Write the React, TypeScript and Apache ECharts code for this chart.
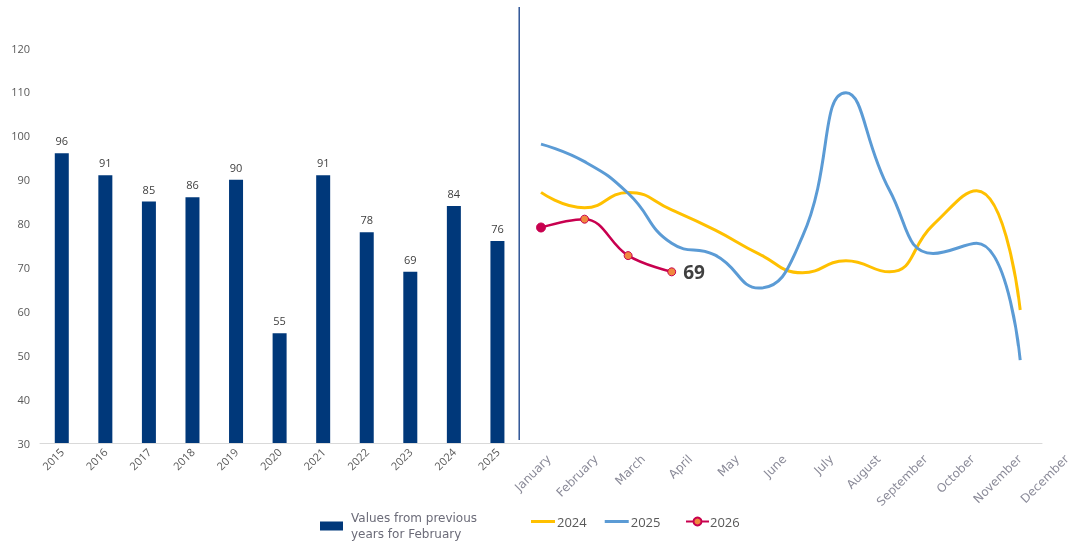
import React, { useEffect, useRef } from "react";
import * as echarts from "echarts";

const years = ["2015", "2016", "2017", "2018", "2019", "2020", "2021", "2022", "2023", "2024", "2025"];
const barValues = [96, 91, 85, 86, 90, 55, 91, 78, 69, 84, 76];
const months = ["January", "February", "March", "April", "May", "June", "July", "August", "September", "October", "November", "December"];
const values2024 = [87.1, 83.6, 87.1, 83.1, 78.5, 73.1, 68.8, 71.5, 69.0, 79.7, 87.5, 60.3];
const values2025 = [98.1, 94.1, 86.9, 75.5, 72.8, 65.3, 77.0, 109.8, 87.6, 73.2, 75.5, 48.9];
const values2026 = [79.1, 81.0, 72.7, 69];
const yMin = 30;
const yMax = 120;
const yInterval = 10;

const barName = "Values from previous\nyears for February";

export default function App() {
  const ref = useRef<HTMLDivElement>(null);
  useEffect(() => {
    const chart = echarts.init(ref.current!, null, { renderer: "svg" });
    const categories = [...years, ...months];
    const nY = years.length;
    const barData = categories.map((_, i) => (i < nY ? barValues[i] : null));
    const lineData = (vals: number[]) => categories.map((_, i) => (i >= nY && i - nY < vals.length ? vals[i - nY] : null));
    const red = "#C8004F";
    const data2026: any[] = lineData(values2026).map((v, i) => {
      if (v === null) return null;
      const k = i - nY;
      if (k === 0) return { value: v, itemStyle: { color: red, borderColor: red }, symbolSize: 9 };
      if (k === values2026.length - 1)
        return {
          value: v,
          label: {
            show: true,
            position: "right",
            distance: 7,
            formatter: "{c}",
            fontSize: 19,
            fontWeight: "bold",
            color: "#404040",
            fontFamily: "Open Sans",
          },
        };
      return v;
    });

    const option: any = {
      animation: false,
      grid: [
        { left: 40, right: 31, top: 48, bottom: 101 },
        { left: 549, right: 3, top: 48, bottom: 101 },
      ],
      legend: [
        {
          data: [{ name: barName, icon: "rect" }],
          left: 315,
          top: 505,
          itemWidth: 23,
          itemHeight: 9,
          itemGap: 10,
          textStyle: { fontSize: 12, color: "#6b6b78", fontFamily: "DejaVu Sans", lineHeight: 16, padding: [0, 0, 0, 3] },
        },
        {
          data: [
            { name: "2024", icon: "rect" },
            { name: "2025", icon: "rect" },
          ],
          left: 526,
          top: 510,
          itemWidth: 24,
          itemHeight: 3,
          itemGap: 18,
          textStyle: { fontSize: 13, color: "#595959", fontFamily: "Open Sans", padding: [0, 0, 0, -3] },
        },
        {
          data: ["2026"],
          left: 680,
          top: 510,
          itemWidth: 23,
          itemHeight: 10,
          textStyle: { fontSize: 13, color: "#595959", fontFamily: "Open Sans", padding: [0, 0, 0, -4] },
        },
      ],
      xAxis: [
        {
          type: "category",
          gridIndex: 0,
          data: categories,
          axisLine: { show: true, lineStyle: { color: "#d9d9d9", width: 1 } },
          axisTick: { show: false },
          axisLabel: {
            interval: 0,
            rotate: 45,
            margin: 7,
            fontSize: 11,
            color: "#595959",
            fontFamily: "Open Sans",
            formatter: (v: string) => (years.includes(v) ? v : ""),
          },
          splitLine: { show: false },
        },
        {
          type: "category",
          gridIndex: 1,
          data: months,
          boundaryGap: false,
          axisLine: { show: false },
          axisTick: { show: false },
          axisLabel: {
            interval: 0,
            rotate: 45,
            margin: 14,
            fontSize: 12,
            color: "#8a8a98",
            fontFamily: "DejaVu Sans",
          },
          splitLine: { show: false },
        },
      ],
      yAxis: [
        {
          type: "value",
          gridIndex: 0,
          min: yMin,
          max: yMax,
          interval: yInterval,
          axisLine: { show: false },
          axisTick: { show: false },
          splitLine: { show: false },
          axisLabel: { fontSize: 11, color: "#595959", fontFamily: "Open Sans", margin: 10 },
        },
        { type: "value", gridIndex: 1, min: yMin, max: yMax, show: false },
      ],
      series: [
        {
          name: barName,
          type: "bar",
          xAxisIndex: 0,
          yAxisIndex: 0,
          data: barData,
          barWidth: 14,
          itemStyle: { color: "#00387A" },
          label: {
            show: true,
            position: "top",
            distance: 7,
            fontSize: 11,
            color: "#404040",
            fontFamily: "Open Sans",
          },
        },
        {
          name: "2024",
          type: "line",
          xAxisIndex: 0,
          yAxisIndex: 0,
          data: lineData(values2024),
          smooth: 0.5,
          symbol: "none",
          color: "#FFC000",
          lineStyle: { color: "#FFC000", width: 3 },
        },
        {
          name: "2025",
          type: "line",
          xAxisIndex: 0,
          yAxisIndex: 0,
          data: lineData(values2025),
          smooth: 0.5,
          symbol: "none",
          color: "#5B9BD5",
          lineStyle: { color: "#5B9BD5", width: 3 },
        },
        {
          name: "2026",
          type: "line",
          xAxisIndex: 0,
          yAxisIndex: 0,
          data: data2026,
          smooth: 0.4,
          symbol: "circle",
          symbolSize: 8,
          showSymbol: true,
          color: red,
          lineStyle: { color: red, width: 2.5 },
          itemStyle: { color: "#F0883E", borderColor: red, borderWidth: 1 },
        },
      ],
    };
    chart.setOption(option);

    const xa = chart.convertToPixel({ xAxisIndex: 0 }, years[nY - 1]) as number;
    const xb = chart.convertToPixel({ xAxisIndex: 0 }, months[0]) as number;
    const xs = (xa + xb) / 2;
    chart.setOption({
      graphic: [
        {
          type: "line",
          shape: { x1: xs, y1: 7, x2: xs, y2: 440 },
          style: { stroke: "#2F5597", lineWidth: 1.5 },
          silent: true,
        },
      ],
    });
    return () => chart.dispose();
  }, []);
  return <div ref={ref} style={{ position: "fixed", left: 0, top: 0, width: 1073, height: 544 }} />;
}
